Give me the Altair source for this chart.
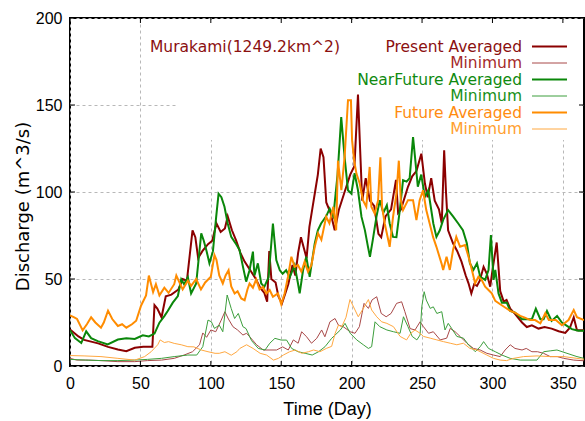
import altair as alt
import pandas as pd

FONT = "Liberation Sans"
KEY_FONT = "DejaVu Sans"

# ---------------- data ----------------
P_AVG_DAY = [0,3,6,10,15,20,27,34,40,46,52,58.5,60,62,65,68,72,77,80,83,87,89,91,94,98,101,104,107,110,112,
             115,118,121,124,128,132,135,138,140,141.5,143,146,148,150.5,153,155,158,160,162,164,166,168,170,172,
             174,176,178,180,182,185,188,191,195,199,202,204.5,206,207.5,210,213,216,219,221,224,228,231.5,233,235,
             240,243,246,249.5,252,254,256.5,259,262,264,265.7,267,268.5,272,275,278,281,283,285,287,289,291,293.7,
             296,298.4,300,303,304,305.5,308,310,312.6,316,321,324.4,328,332.7,337,342,347,351.7,355,357.7,360,365]
P_AVG_Q = [21,19,17,15,14,13,11,9.5,8.5,10.5,11,11,35,33,28,40,41,44,50,49,78,74,62,66,70,72,82,77,79,86,
           78,72,65,60,55,50,45,42,37,66,50,48,40,36,42,47,58,52,65,74,68,62,80,90,100,110,125,120,94,88,
           78,90,100,110,115,156,125,95,108,95,92,76,74,86,90,107,88,90,103,109,112,122,105,97,108,95,90,82,124,100,
           78,70.5,66,60,52,47.5,41.7,47,46,49,57,53,45.6,55,71,60,43,37,38,33,30,25,22.4,23.4,21.5,22.4,21.5,20,19,22,
           28,20.6,20.5]

P_MIN_DAY = [0,5,13,22,34,46,55,65,74,81,87,92,94.3,97,100,103.5,107.4,110,112.5,115.7,119,122.8,125.4,129,132.5,
             137.2,142,146.7,151,155,158.6,162,164.5,168,171.5,175.2,178.7,181,184.6,188.2,190.6,194,199,202.4,205.5,
             208.8,211.9,214.5,217.8,221,224.5,228,231.9,235.5,237.8,241.5,245,248.6,251,254.6,258,262.9,267.5,270,
             273.5,277,281.8,286.5,291.3,296,300.7,305.5,309,312.6,316,321,324,328,332,336.3,341,346,350.6,357.7,365]
P_MIN_Q = [4.4,3.4,3.4,3.1,2.5,2.5,3.1,3.4,4.4,6.3,8.2,12.2,19,16.5,20.7,19.7,26.4,31.2,27,22.6,20.7,17.8,18.8,15.5,
           12.2,9.2,9.2,9.2,11,9.2,15,13.1,19.7,16.8,13.1,15.9,20.7,16.8,25.4,27.3,23.5,22.6,19.7,18.8,22.6,36,33.1,
           38,39.8,30.2,28.3,30.2,36,36.9,31.2,21.5,20.7,25.4,22.6,18.8,19.7,15,16,21.6,19.7,17,13.1,10.1,9.2,7.3,
           6.3,5.4,9.2,12.2,10.1,9.2,10.1,8.2,8.2,7.3,5.4,5.4,4.4,3.4,3.0]

NF_AVG_DAY = [0,3.5,8,11.5,15,19.7,26.8,34,40,46,51.7,56,60,63.5,67,69.4,73,76.6,79,81,83.7,86,89.6,93.2,95,97,99,
              101.5,103.8,105.5,107.5,109.7,112,114.5,118,120.4,122.8,125.1,127.5,129.9,131,133.4,135.8,138,141,144.1,
              146.5,149,151,153.5,156,159.5,161.9,163.1,165.5,167.8,170.2,173.8,176,178.3,181.9,184.4,187,190,192.6,
              195,197.4,199.8,202.1,204.5,207,209.4,211.6,213,215,217.6,220,222.5,225,227,229.4,231.8,234.2,236.5,239,
              241.2,243.6,245,247,249.4,252,254.4,258,260.2,262.6,265,268.5,272,275.7,279,281.8,284,286.5,289,291.3,
              294.8,297.2,298.9,300.8,302,304.3,306.7,310.2,312.6,316,318.6,321,324.4,328,330.8,334,336.3,338.7,342,
              345.9,349.3,352.9,356.4,361,365]
NF_AVG_Q = [20.6,16,13.2,19.9,16,14.3,12.4,15.2,16,15.5,17.6,17,18.6,24.9,28.7,31.6,36.4,40.2,49.8,47,51,41.7,47.4,
            76.2,72,66,59,66,85.7,99,97,91.5,81.9,74.2,70,66.7,57.1,48.5,55,65.7,52,59,47.4,45.5,51,81.9,60.9,55,53,55,
            51,58,47.4,41.7,55,62.8,51.3,70.5,78,81.9,86,90.4,86,110,143,120,101,99,110.8,101,85.7,78.1,68.5,62.8,
            72.3,85.7,95.3,88,92.4,81.9,74.2,74,89.6,106.8,106,108,131.6,120,103,110,97.2,101,81.9,74.2,78,84,89.6,86,
            81.9,78,70.5,59,55.2,59,51.3,49.5,55.2,75.2,49.5,55.2,41.7,36.4,36.4,31.6,30.7,28.8,26.9,26.9,26.9,32.9,
            26.9,26.9,31.6,25.9,28.8,25,23.1,21.2,20.3,20.3]

NF_MIN_DAY = [0,11,22,34,46,55,65,74,83.7,90,94.3,98,100.4,102.6,106,108.5,111.6,114.5,116.9,119.5,122.8,125,128.9,
              133.7,138.5,141.9,145.5,150,153.8,157.4,162,167,172,176.5,181.1,185.8,192,195.3,199,203.6,208.3,211.9,
              214.2,216.6,220,225,229.7,234.4,236.8,240,243,246.3,248.6,249.8,251.5,253,255.8,258,260.5,264,266.3,
              268.6,271,274.7,279.4,283,287.8,291.3,293.7,297.2,302,306.7,312.6,319.7,331.6,336.3,341,345.8,352.9,360,365]
NF_MIN_Q = [3.8,3.4,3.1,3.1,3.4,3.8,4.4,5.4,6.3,6.3,11.1,26.4,25.4,21.6,23.5,19.7,40.8,33,27.3,30.2,22.6,21.5,14.6,
            10.1,9.2,13.1,15.9,14.9,14.9,10.1,8.2,7.3,6.3,8.2,11.1,15.9,20.7,24.5,18.8,15,12.2,10.1,11.1,25.4,22.6,
            20.7,19.7,18.8,28.3,22.6,17,15,17.8,34,42.7,37.9,33.1,34,30.2,31.2,20.7,24.5,21.6,17,16,12.2,8.2,11.1,14,
            10.1,8.2,6.3,4.4,3.4,3.4,8.2,8.7,9.2,7.3,5.4,4.4]

F_AVG_DAY = [0,3,5,9,12,15,18,22,24,27,30,34,37,40,44,47,50.5,54,56,59,61,63.5,67,70,74,75.5,80,83.7,86,89.6,93,96,
             100,102.6,104,106,108.5,110.5,112.6,114.5,116.9,119,121.6,124,126,127.5,129.9,132.2,134.6,137,139.4,141.8,
             144.1,147.7,150,152.4,154.8,157.2,159.5,161.9,164.3,166.6,169,171.4,173.8,176.2,178.5,181.9,184.2,187,189,
             190.3,192.7,195,197.4,199.5,200.3,201.8,203.4,205.7,208,210.4,212.8,214,216.4,218.8,220.4,221.6,223.5,227,
             229.4,231.8,233.5,234.9,236.5,240,243.6,246,248.3,250.7,253,255.4,257.8,260.2,263.8,265,267.4,269.7,272,
             274.3,277,280.5,283,285.4,287.7,290,292.4,294.8,297.2,299.5,302,305.5,309,312.6,316,319.7,323,326.8,330.3,
             334,337.5,340,345,349.3,354,357.7,360,365]
F_AVG_Q = [29,28,27,20.5,24,28,25,22,25,31.8,27,23,24,22,24,26,34.8,40.6,52,42.5,47,40.6,45,42,47,52,44,49,46,50,
           44,48,51.3,63.7,61,52,47.4,52,55,45.7,41.7,43,38.8,37.8,44,47.4,45,49.8,44,45.5,41.7,43.7,39.8,41.7,35.5,
           41.7,51.3,62.8,57,58,54.2,60,54.2,58,68.5,76.2,72.5,85.7,82,91.5,78,118,101,120,152.7,152.7,129.8,118,110.6,
           105,95.3,91.5,114.4,91.5,87.6,95.3,120,91.5,81.9,68.5,85.7,99.1,118,95.3,89.6,95.3,95.3,83.9,95.3,101,
           89.6,81.9,74.2,68.5,59,55.2,62.8,55.2,66.7,74.2,68.5,69.5,62.8,55.2,47.5,51.3,49.4,45.6,43.7,41.7,
           37.4,35.5,33.6,31.7,30.7,28.8,27.8,26.4,26.4,24.5,30.3,26.4,26.4,23.4,26.4,32.1,28,26.4]

F_MIN_DAY = [0,10,22,34,46,53,57.6,62.3,64,67,70,74,79,83.7,88,93.2,98,103,106,110,114.5,118.5,120.6,125.4,130,135,
             139.6,144.5,148,151.5,156,160,164.6,169.3,173,177.5,182,185.8,188.3,190.6,193,196,198.8,202.4,204.7,208.3,
             211.9,214.2,217.8,221.3,225,229.7,234.4,239,242,245,248.6,251,255.8,260.5,265.2,270,274.7,279.4,284,288.9,
             296,300.7,305.5,310,315,322,331.6,341,350.6,360,365]
F_MIN_Q = [6,5.8,5.4,4.4,3.4,5.4,8.2,12.2,15,13.5,14,13,12.2,11.1,11,9.2,8.2,7.3,7.3,8.2,6.2,8.2,10.1,12.2,10.1,7.3,
           6.3,3.4,4.4,6.3,8.2,9.2,7.3,8.2,9.2,8.2,10.1,11.3,18.8,23.5,22.6,28,38.2,32.2,28.3,33.1,38.2,32.2,28.3,25.4,
           24.5,22.6,17,15,18.8,20.7,18.8,17,16,15,14,13.1,12.2,13.1,10.1,9.2,6.3,4.4,3.4,3.1,4.4,5.4,5.8,5.4,5.4,4.4,3.8]

X_TICKS = [0, 50, 100, 150, 200, 250, 300, 350]
Y_TICKS = [0, 50, 100, 150, 200]

TITLE_TEXT = "Murakami(1249.2km^2)"
LEGEND_TEXT = ["Present Averaged", "Minimum", "NearFuture Averaged", "Minimum", "Future Averaged", "Minimum"]
TEXT_COLORS = ["#8b1010", "#a52a2a", "#108a10", "#189018", "#ff8c10", "#ffa030"]
LINE_COLORS = ["#8b0000", "#a84848", "#0a870a", "#3c9e3c", "#ff8c00", "#ffa840"]
LINE_WIDTHS = [2, 1, 2, 1, 2, 1]
SERIES = [(P_AVG_DAY, P_AVG_Q), (P_MIN_DAY, P_MIN_Q), (NF_AVG_DAY, NF_AVG_Q),
          (NF_MIN_DAY, NF_MIN_Q), (F_AVG_DAY, F_AVG_Q), (F_MIN_DAY, F_MIN_Q)]

W, H = 514, 348

x_scale = alt.Scale(domain=[0, 365], nice=False, zero=False)
y_scale = alt.Scale(domain=[0, 200], nice=False)

x_axis = alt.Axis(values=X_TICKS, title="Time (Day)", grid=True, ticks=False, tickSize=0, domain=False,
                  labelFont=FONT, labelFontSize=16, labelColor="black", labelPadding=9, labelFlush=False,
                  titleFont=FONT, titleFontSize=18, titleFontWeight="normal", titleColor="black",
                  titleY=43, titleBaseline="middle",
                  gridColor="#b8b8b8", gridDash=[3, 3], gridWidth=1)
y_axis = alt.Axis(values=Y_TICKS, title="Discharge (m^3/s)", grid=True, ticks=False, tickSize=0, domain=False,
                  labelFont=FONT, labelFontSize=16, labelColor="black", labelPadding=8,
                  titleFont=KEY_FONT, titleFontSize=18, titleFontWeight="normal", titleColor="black",
                  titleX=-47, titleY=188, titleBaseline="middle", titleAlign="center", titleAngle=270,
                  gridColor="#b8b8b8", gridDash=[3, 3], gridWidth=1)


def X(field):
    return alt.X(field, scale=x_scale, axis=x_axis)


def Y(field):
    return alt.Y(field, scale=y_scale, axis=y_axis)


layers = []
base_df = pd.DataFrame({"day": [0, 365], "q": [0, 200]})
# invisible layer that carries the axes and grid
layers.append(alt.Chart(base_df).mark_point(opacity=0).encode(x=X("day:Q"), y=Y("q:Q")))

# white key box hiding the grid
layers.append(alt.Chart(base_df).mark_rect(color="white").encode(
    x=alt.value(106), x2=alt.value(W - 2), y=alt.value(2), y2=alt.value(122)))

# data lines
for (days, qs), col, sw, name in zip(SERIES, LINE_COLORS, LINE_WIDTHS, LEGEND_TEXT):
    assert len(days) == len(qs), name
    df = pd.DataFrame({"day": days, "q": qs})
    layers.append(alt.Chart(df).mark_line(color=col, strokeWidth=sw, clip=True).encode(
        x=X("day:Q"), y=Y("q:Q")))

# inward tick marks (mirrored on all four sides)
xt = pd.DataFrame({"day": X_TICKS})
yt = pd.DataFrame({"q": Y_TICKS})
layers.append(alt.Chart(xt).mark_rule(color="black", strokeWidth=1).encode(
    x=X("day:Q"), y=alt.value(H), y2=alt.value(H - 5)))
layers.append(alt.Chart(xt).mark_rule(color="black", strokeWidth=1).encode(
    x=X("day:Q"), y=alt.value(0), y2=alt.value(5)))
layers.append(alt.Chart(yt).mark_rule(color="black", strokeWidth=1).encode(
    y=Y("q:Q"), x=alt.value(0), x2=alt.value(5)))
layers.append(alt.Chart(yt).mark_rule(color="black", strokeWidth=1).encode(
    y=Y("q:Q"), x=alt.value(W), x2=alt.value(W - 5)))

# title label inside plot
layers.append(alt.Chart(pd.DataFrame({"t": [TITLE_TEXT]})).mark_text(
    align="left", baseline="middle", font=KEY_FONT, fontSize=15.5, color="#8b1010").encode(
    x=alt.value(80), y=alt.value(28.5), text="t:N"))

# key
LEG_Y0, LEG_DY = 28.5, 16.5
for i, (lab, tc, lc, sw) in enumerate(zip(LEGEND_TEXT, TEXT_COLORS, LINE_COLORS, LINE_WIDTHS)):
    yy = LEG_Y0 + i * LEG_DY
    layers.append(alt.Chart(pd.DataFrame({"t": [lab]})).mark_text(
        align="right", baseline="middle", font=KEY_FONT, fontSize=15.5, color=tc).encode(
        x=alt.value(452), y=alt.value(yy), text="t:N"))
    layers.append(alt.Chart(pd.DataFrame({"t": [lab]})).mark_rule(color=lc, strokeWidth=sw).encode(
        x=alt.value(462), x2=alt.value(497), y=alt.value(yy)))

chart = alt.layer(*layers).properties(
    width=W, height=H,
    autosize=alt.AutoSizeParams(type="none"),
    padding={"left": 70, "top": 18, "right": 1, "bottom": 55},
    background="white",
).configure_view(stroke="black", strokeWidth=2)

chart.save("out.html", embed_options={"renderer": "svg", "actions": False})
